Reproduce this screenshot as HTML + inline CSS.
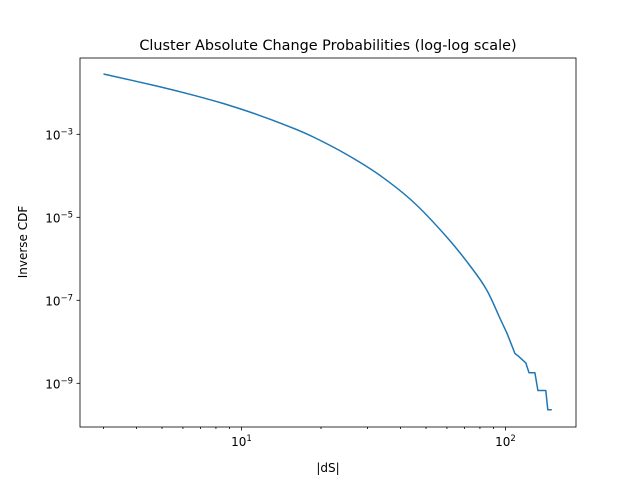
<!DOCTYPE html>
<html><head><meta charset="utf-8"><style>
body{margin:0;background:#fff}
svg text{font-family:"DejaVu Sans","Liberation Sans",sans-serif;fill:#000}
</style></head><body>
<svg id="chart" width="640" height="480" viewBox="0 0 640 480" xmlns="http://www.w3.org/2000/svg">
<rect width="640" height="480" fill="#fff"/>
<text x="328" y="50" font-size="14.4" text-anchor="middle">Cluster Absolute Change Probabilities (log-log scale)</text>
<text x="328" y="472" font-size="12" text-anchor="middle">|dS|</text>
<text transform="translate(27,242) rotate(-90)" font-size="12" text-anchor="middle">Inverse CDF</text>
<g id="ticks"></g>
<path id="series" fill="none" stroke="#1f77b4" stroke-width="1.5" stroke-linejoin="round"/>
<rect x="80" y="58" width="496" height="369" fill="none" stroke="#000" stroke-width="0.8"/>
</svg>
<script>
const xValues=[3.0,4.77,6.38,8.53,11.42,15.27,18.71,25.03,33.46,44.76,59.9,74.5,84.9,94.4,101.3,108.6,111.5,119.4,122.7,129.2,132.6,142.1,144.6,149.7];
const yValues=[2.84e-2,1.46e-2,9.2e-3,5.52e-3,3.02e-3,1.51e-3,8.61e-4,3.26e-4,1.02e-4,2.34e-5,3.35e-6,6.0e-7,1.77e-7,4.19e-8,1.6e-8,5.2e-9,4.6e-9,3.1e-9,1.8e-9,1.8e-9,6.7e-10,6.7e-10,2.3e-10,2.3e-10];
const yTickExps=[-3,-5,-7,-9];
const xTickExps=[1,2];
const xMinor=[3,4,5,6,7,8,9,20,30,40,50,60,70,80,90];
const SMOOTH_UNTIL=13;
const NS="http://www.w3.org/2000/svg";
function xs(v){return 241.5+(Math.log10(v)-1)*264;}
function ys(v){return 134.3-(Math.log10(v)+3)*41.5;}
const P=xValues.map((x,i)=>[xs(x),ys(yValues[i])]);
let d="M"+P[0][0].toFixed(1)+","+P[0][1].toFixed(1);
for(let i=0;i<P.length-1;i++){
  if(i<SMOOTH_UNTIL){
    const p0=P[Math.max(i-1,0)],p1=P[i],p2=P[i+1],p3=P[Math.min(i+2,SMOOTH_UNTIL)];
    const c1=[p1[0]+(p2[0]-p0[0])/6,p1[1]+(p2[1]-p0[1])/6];
    const c2=[p2[0]-(p3[0]-p1[0])/6,p2[1]-(p3[1]-p1[1])/6];
    d+="C"+c1.map(v=>v.toFixed(1)).join(",")+" "+c2.map(v=>v.toFixed(1)).join(",")+" "+p2[0].toFixed(1)+","+p2[1].toFixed(1);
  } else {
    d+="L"+P[i+1][0].toFixed(1)+","+P[i+1][1].toFixed(1);
  }
}
document.getElementById("series").setAttribute("d",d);
const g=document.getElementById("ticks");
function line(x1,y1,x2,y2,name){const l=document.createElementNS(NS,"line");
l.setAttribute("x1",x1);l.setAttribute("y1",y1);l.setAttribute("x2",x2);l.setAttribute("y2",y2);
l.setAttribute("stroke","#000");l.setAttribute("stroke-width","0.8");


g.appendChild(l);}
function label(x,y,exp,anchor,name){const t=document.createElementNS(NS,"text");
t.setAttribute("x",x);t.setAttribute("y",y);t.setAttribute("font-size","12");t.setAttribute("text-anchor",anchor);
t.innerHTML='10<tspan font-size="8.5" dy="-5">'+(exp<0?'\u2212'+(-exp):exp)+'</tspan>';


g.appendChild(t);}
yTickExps.forEach(e=>{const y=ys(Math.pow(10,e));line(76.5,y,80,y,"y-tick");label(73,y+5,e,"end","y-tick-label");});
xTickExps.forEach(e=>{const x=xs(Math.pow(10,e));line(x,427,x,430.5,"x-tick");label(x,446,e,"middle","x-tick-label");});
xMinor.forEach(v=>{const x=xs(v);line(x,427,x,429,"x-minor-tick");});
</script>
</body></html>
